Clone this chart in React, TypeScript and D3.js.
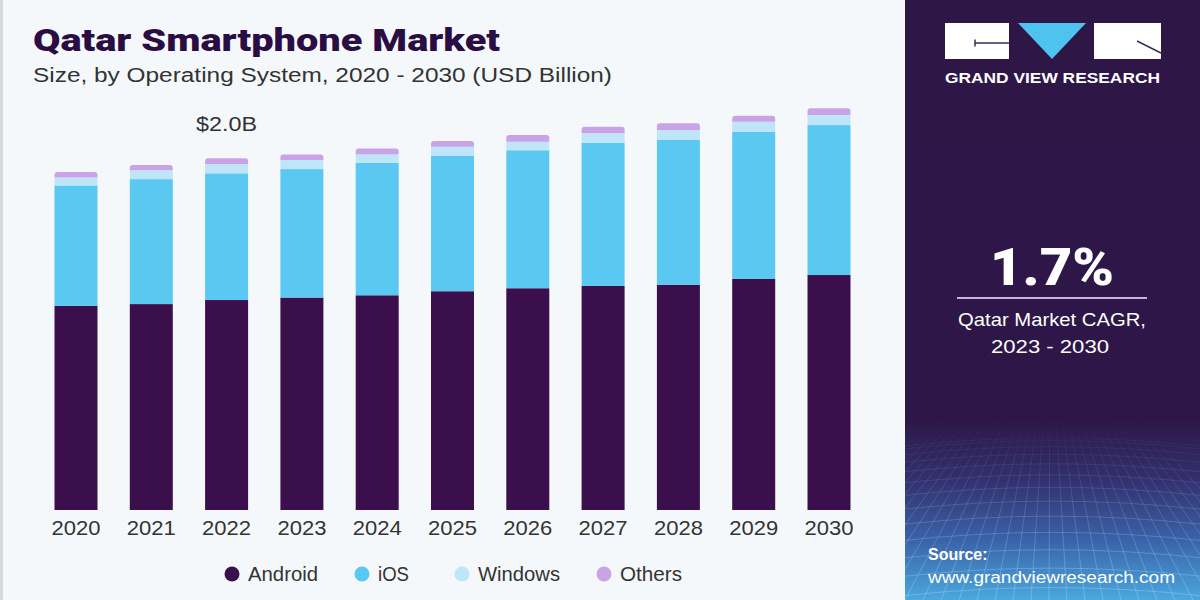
import React from 'react';
import * as d3 from 'd3';

const years = ['2020', '2021', '2022', '2023', '2024', '2025', '2026', '2027', '2028', '2029', '2030'];
const android = [1.16, 1.17, 1.193, 1.207, 1.22, 1.243, 1.26, 1.273, 1.28, 1.3125, 1.335];
const ios = [0.684, 0.71, 0.72, 0.73, 0.753, 0.77, 0.784, 0.814, 0.824, 0.837, 0.852];
const windows = [0.045, 0.05, 0.051, 0.051, 0.049, 0.051, 0.049, 0.053, 0.055, 0.057, 0.057];
const others = [0.032, 0.03, 0.034, 0.032, 0.032, 0.032, 0.038, 0.038, 0.038, 0.034, 0.038];
const seriesNames = ['Android', 'iOS', 'Windows', 'Others'];
const seriesColors = ['#3a0f4b', '#5bc8f2', '#bee6f8', '#c9a3e6'];
const annotationYear = '2022';
const annotationText = '$2.0B';

const W = 1200;
const H = 600;
const FONT = "'Liberation Sans', Arial, sans-serif";
const HEAVY = "Roboto, 'Liberation Sans', Arial, sans-serif";

function roundTopRect(x: number, y: number, w: number, h: number, r: number) {
  const rr = Math.min(r, h, w / 2);
  return `M${x},${y + h}V${y + rr}Q${x},${y} ${x + rr},${y}H${x + w - rr}Q${x + w},${y} ${x + w},${y + rr}V${y + h}Z`;
}

export default function App() {
  const rows = years.map((yr, i) => ({
    year: yr,
    Android: android[i],
    iOS: ios[i],
    Windows: windows[i],
    Others: others[i],
  }));
  const stack = d3.stack<any>().keys(seriesNames)(rows);

  const x = d3.scaleBand<string>().domain(years).range([54.5, 850.5]).paddingInner(0.429).paddingOuter(0);
  const y = d3.scaleLinear().domain([0, 2.0]).range([510, 158]);
  const bw = x.bandwidth();

  const annIdx = years.indexOf(annotationYear);
  const annTotal = android[annIdx] + ios[annIdx] + windows[annIdx] + others[annIdx];

  const legendX = [232, 362, 462, 604];
  const legendW = [70, 31, 82, 62];

  const gridLines: string[] = [];
  const gx0 = 905, gx1 = 1200, gy0 = 420, gy1 = 600;
  for (let k = -10; k <= 22; k++) {
    const bx = gx0 + k * 18;
    gridLines.push(`M${1050 + (bx - 1050) * 0.35},${gy0}L${bx},${gy1}`);
  }
  for (let k = 0; k < 14; k++) {
    const t = Math.pow(k / 13, 1.6);
    const yy = gy0 + 20 + t * (gy1 - gy0 - 10);
    gridLines.push(`M${gx0},${yy + 6}Q1050,${yy - 10} ${gx1},${yy + 6}`);
  }

  return (
    <svg width={W} height={H} style={{ position: 'absolute', left: 0, top: 0, display: 'block' }}>
      <defs>
        <linearGradient id="panelGrad" x1="0" y1="0" x2="0" y2="1">
          <stop offset="0" stopColor="#2e1647" />
          <stop offset="0.7" stopColor="#2e1748" />
          <stop offset="0.8" stopColor="#33306e" />
          <stop offset="0.9" stopColor="#3b62a8" />
          <stop offset="1" stopColor="#4aa8de" />
        </linearGradient>
        <linearGradient id="gridFade" x1="0" y1="0" x2="0" y2="1">
          <stop offset="0" stopColor="#fff" stopOpacity="0" />
          <stop offset="1" stopColor="#fff" stopOpacity="1" />
        </linearGradient>
        <mask id="gridMask">
          <rect x={gx0} y={gy0} width={gx1 - gx0} height={gy1 - gy0} fill="url(#gridFade)" />
        </mask>
        <clipPath id="panelClip">
          <rect x={905} y={0} width={295} height={600} />
        </clipPath>
      </defs>

      <rect x={0} y={0} width={W} height={H} fill="#f5f8fb" />
      <rect x={0} y={0} width={3} height={H} fill="#d6d8dc" />

      {/* Title */}
      <text x={33} y={51} fontFamily={HEAVY} fontWeight={900} fontSize={32} fill="#2a0d42" textLength={467} lengthAdjust="spacingAndGlyphs">
        Qatar Smartphone Market
      </text>
      <text x={33} y={82} fontFamily={FONT} fontSize={20} fill="#333" textLength={579} lengthAdjust="spacingAndGlyphs">
        Size, by Operating System, 2020 - 2030 (USD Billion)
      </text>

      {/* Bars */}
      {stack.map((s, si) => (
        <g key={s.key} fill={seriesColors[si]}>
          {s.map((d: any, i: number) => {
            const x0 = x(years[i])!;
            const yTop = y(d[1]);
            const h = y(d[0]) - y(d[1]);
            if (si === stack.length - 1) {
              return <path key={i} d={roundTopRect(x0, yTop, bw, h, 3)} />;
            }
            return <rect key={i} x={x0} y={yTop} width={bw} height={h} />;
          })}
        </g>
      ))}

      {/* Annotation */}
      <text x={x(annotationYear)! + bw / 2} y={y(annTotal) - 27} textAnchor="middle" fontFamily={FONT} fontSize={20} fill="#333" textLength={61} lengthAdjust="spacingAndGlyphs">
        {annotationText}
      </text>

      {/* Year labels */}
      {years.map((yr) => (
        <text key={yr} x={x(yr)! + bw / 2} y={535} textAnchor="middle" fontFamily={FONT} fontSize={21} fill="#333" textLength={49} lengthAdjust="spacingAndGlyphs">
          {yr}
        </text>
      ))}

      {/* Legend */}
      {seriesNames.map((n, i) => (
        <g key={n}>
          <circle cx={legendX[i]} cy={574} r={7.5} fill={seriesColors[i]} />
          <text x={legendX[i] + 16} y={581} fontFamily={FONT} fontSize={20} fill="#333" textLength={legendW[i]} lengthAdjust="spacingAndGlyphs">
            {n}
          </text>
        </g>
      ))}

      {/* Right panel */}
      <rect x={905} y={0} width={295} height={600} fill="url(#panelGrad)" />
      <g clipPath="url(#panelClip)" mask="url(#gridMask)">
        {gridLines.map((d, i) => (
          <path key={i} d={d} fill="none" stroke="#a9d8f5" strokeOpacity={0.4} strokeWidth={1} />
        ))}
      </g>

      {/* Logo */}
      <rect x={945} y={23} width={64} height={36} fill="#ffffff" />
      <path d="M975,43H1009" stroke="#3a2a55" strokeWidth={1.5} />
      <path d="M975,39.5V46.5" stroke="#3a2a55" strokeWidth={1.5} />
      <path d="M1018,23H1086L1052,59Z" fill="#4fc3ef" />
      <rect x={1094} y={23} width={67} height={36} fill="#ffffff" />
      <path d="M1137,41L1161,53" stroke="#3a2a55" strokeWidth={1.5} />
      <text x={945} y={83} fontFamily={FONT} fontWeight={700} fontSize={14} fill="#ffffff" textLength={215} lengthAdjust="spacingAndGlyphs">
        GRAND VIEW RESEARCH
      </text>

      {/* CAGR */}
      <text x={1052} y={285} textAnchor="middle" fontFamily={HEAVY} fontWeight={900} fontSize={52} fill="#ffffff" textLength={124} lengthAdjust="spacingAndGlyphs">
        1.7%
      </text>
      <rect x={957} y={297} width={190} height={2} fill="#c6b1e0" />
      <text x={1052} y={326} textAnchor="middle" fontFamily={FONT} fontSize={19} fill="#ffffff" textLength={188} lengthAdjust="spacingAndGlyphs">
        Qatar Market CAGR,
      </text>
      <text x={1050} y={353} textAnchor="middle" fontFamily={FONT} fontSize={19} fill="#ffffff" textLength={118} lengthAdjust="spacingAndGlyphs">
        2023 - 2030
      </text>

      {/* Source */}
      <text x={928} y={560} fontFamily={FONT} fontWeight={700} fontSize={16} fill="#ffffff">
        Source:
      </text>
      <text x={928} y={583} fontFamily={FONT} fontSize={16} fill="#ffffff" textLength={247} lengthAdjust="spacingAndGlyphs">
        www.grandviewresearch.com
      </text>
    </svg>
  );
}
